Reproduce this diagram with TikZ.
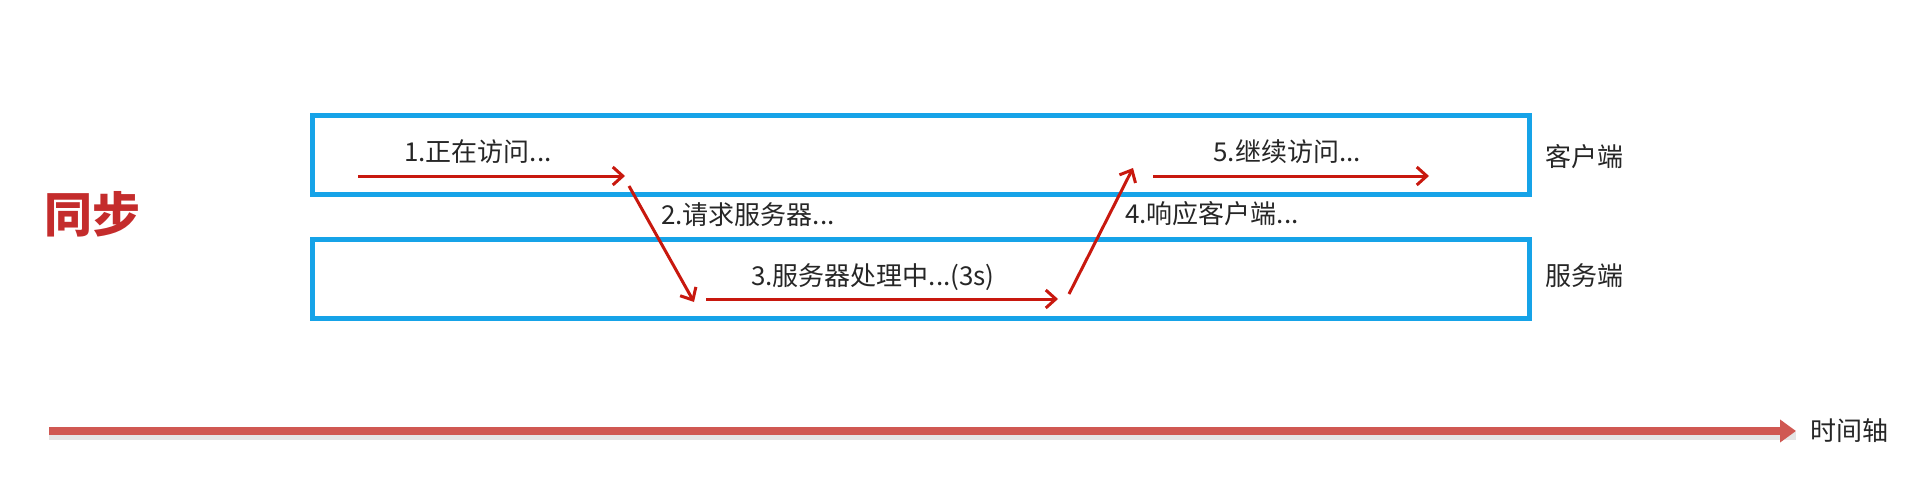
\documentclass[tikz,border=0pt]{standalone}
\usepackage{fontspec}
\setmainfont{Noto Sans CJK SC}
\usetikzlibrary{arrows.meta,positioning}
\definecolor{laneblue}{RGB}{22,163,232}
\definecolor{flowred}{RGB}{200,24,14}
\definecolor{axisred}{RGB}{208,88,82}
\definecolor{titlered}{RGB}{196,44,44}
\tikzset{
  lane/.style={draw=laneblue, line width=5pt, minimum width=1217pt, minimum height=79pt, anchor=north west, inner sep=0pt},
  flow/.style={draw=flowred, line width=3pt, -{Straight Barb[length=10pt,width=18pt,line width=3pt]}},
  lbl/.style={font=\fontsize{26pt}{30pt}\selectfont, text=black!85, inner sep=0pt}
}

\begin{document}
\begin{tikzpicture}[x=1pt, y=-1pt]
  \useasboundingbox (0,0) rectangle (1920,496);
  % title
  \node[font=\fontsize{48pt}{54pt}\selectfont\bfseries, text=titlered] (title) at (92,214) {同步};
  % lanes
  \node[lane] (client) at (310,113) {};
  \node[lane] (server) at (310,237) {};
  \node[lbl, anchor=west] (clientlbl) at (1545,157) {客户端};
  \node[lbl, anchor=west] (serverlbl) at (1545,276) {服务端};
  % arrow end points
  \coordinate (p1) at (358,176);
  \coordinate (p2) at (625,176);
  \coordinate (p3) at (629,186);
  \coordinate (p4) at (694,302);
  \coordinate (p5) at (706,299);
  \coordinate (p6) at (1058,299);
  \coordinate (p7) at (1069,294);
  \coordinate (p8) at (1133,168);
  \coordinate (p9) at (1153,176);
  \coordinate (p10) at (1429,176);
  % request and response
  \draw[flow] (p1) -- (p2);
  \draw[flow] (p3) -- (p4);
  \draw[flow] (p5) -- (p6);
  \draw[flow] (p7) -- (p8);
  \draw[flow] (p9) -- (p10);
  \node[lbl] (s1) at (478,152) {1.正在访问...};
  \node[lbl, anchor=west] (s2) at (661,215) {2.请求服务器...};
  \node[lbl] (s3) at (873,277) {3.服务器处理中...(3s)};
  \node[lbl, anchor=west] (s4) at (1125,214) {4.响应客户端...};
  \node[lbl] (s5) at (1287,152) {5.继续访问...};
  % time axis
  \coordinate (t0) at (49,431);
  \coordinate (t1) at (1796,431);
  \draw[line width=8pt, black!10] ([yshift=-5pt]t0) -- ([yshift=-5pt]t1);
  \draw[line width=8pt, axisred, -{Triangle[length=16pt,width=22pt]}] (t0) -- (t1);
  \node[lbl, anchor=west] (axislbl) at (1810,431) {时间轴};
\end{tikzpicture}
\end{document}
